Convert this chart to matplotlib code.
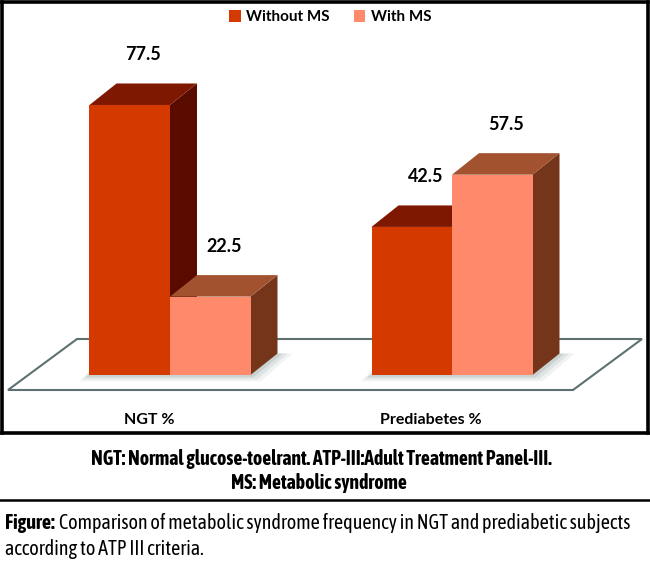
import matplotlib.pyplot as plt
from matplotlib.patches import Polygon, Patch

# data
categories = ["NGT %", "Prediabetes %"]
series = ["Without MS", "With MS"]
without_ms = [77.5, 42.5]
with_ms = [22.5, 57.5]
caption_lines = ["NGT: Normal glucose-toelrant. ATP-III:Adult Treatment Panel-III.",
                 "MS: Metabolic syndrome"]
figure_label = "Figure:"
figure_lines = ["Comparison of metabolic syndrome frequency in NGT and prediabetic subjects",
                "according to ATP III criteria."]

# colours: front, top, side
face_colors = {
    "Without MS": ("#D43A00", "#7F1800", "#5A0B00"),
    "With MS": ("#FF8A6B", "#A3522F", "#74351A"),
}

W, H = 650, 564
fig = plt.figure(figsize=(W / 100, H / 100), dpi=100)

# layout in pixels
box = (2, 2, 648, 433)          # chart border left, top, right, bottom
group_px = 282                  # distance between category centres
x0_px = 170                     # pixel x of first category centre
base_px = 375                   # pixel y of value 0 (front)
unit_px = 3.484                 # pixels per value unit
depth_px = (27, 21.5)           # 3d depth offset of bars

ax = fig.add_axes([box[0] / W, 1 - box[3] / H, (box[2] - box[0]) / W, (box[3] - box[1]) / H])
ax.set_xlim((box[0] - x0_px) / group_px, (box[2] - x0_px) / group_px)
ax.set_ylim((base_px - box[3]) / unit_px, (base_px - box[1]) / unit_px)
ax.set_xticks([])
ax.set_yticks([])
for s in ax.spines.values():
    s.set_linewidth(2.6)
    s.set_color("black")

dx = depth_px[0] / group_px
dy = depth_px[1] / unit_px
bar_w = 80.5 / group_px

# floor
fl_front, fl_back = -15 / unit_px, 36 / unit_px
fl_left, fl_right = (8 - x0_px) / group_px, (573 - x0_px) / group_px
fl_dx = 69 / group_px
ax.add_patch(Polygon([(fl_left, fl_front), (fl_right, fl_front),
                      (fl_right + fl_dx, fl_back), (fl_left + fl_dx, fl_back)],
                     closed=True, facecolor="white", edgecolor="#5E7070", lw=1.5, zorder=1))

chart_font = "Lato"

z = 3
for i, cat in enumerate(categories):
    # soft shadow under the group
    xl, xr = i - bar_w, i + bar_w
    for k, a in [(3, 0.10), (2, 0.15), (1, 0.2)]:
        e = k * 0.012
        ax.add_patch(Polygon([(xl - e, -k * 0.6), (xr + e, -k * 0.6),
                              (xr + dx + e * 1.5, dy), (xl + dx - e, dy)],
                             closed=True, facecolor="#7A8A8A", edgecolor="none",
                             alpha=a, zorder=2))
    for j, (name, vals) in enumerate(zip(series, [without_ms, with_ms])):
        h = vals[i]
        x0 = i - bar_w + j * bar_w
        front, top, side = face_colors[name]
        ax.add_patch(Polygon([(x0, 0), (x0 + bar_w, 0), (x0 + bar_w, h), (x0, h)],
                             closed=True, facecolor=front, edgecolor="none", zorder=z + 1))
        ax.add_patch(Polygon([(x0, h), (x0 + bar_w, h), (x0 + bar_w + dx, h + dy), (x0 + dx, h + dy)],
                             closed=True, facecolor=top, edgecolor="none", zorder=z + 1))
        ax.add_patch(Polygon([(x0 + bar_w, 0), (x0 + bar_w + dx, dy),
                              (x0 + bar_w + dx, h + dy), (x0 + bar_w, h)],
                             closed=True, facecolor=side, edgecolor="none", zorder=z))
        z += 2
        ax.text(x0 + bar_w / 2 + dx / 2, h + 50 / unit_px, f"{h}", ha="center", va="center",
                fontsize=13, fontweight="bold", family=chart_font, zorder=20)
    ax.text(i - 21 / group_px, (base_px - 420) / unit_px, cat, ha="center", va="center",
            fontsize=11.5, fontweight="bold", family=chart_font)

handles = [Patch(facecolor=face_colors[n][0], edgecolor="none") for n in series]
ax.legend(handles, series, loc="upper center", bbox_to_anchor=(0.508, 1.0), ncol=2,
          frameon=False, handlelength=0.75, handleheight=0.75, handletextpad=0.35,
          columnspacing=1.6, borderaxespad=0.15,
          prop={"family": chart_font, "weight": "bold", "size": 11})

# captions below the chart
cap_font = ["Asap Condensed", "DejaVu Sans"]
fig.text(0.494, 1 - 465 / H, caption_lines[0], ha="center", va="baseline",
         fontsize=14.2, fontweight="bold", family=cap_font)
fig.text(0.490, 1 - 489 / H, caption_lines[1], ha="center", va="baseline",
         fontsize=14.2, fontweight="bold", family=cap_font)
fig.add_artist(plt.Line2D([0, 1], [1 - 500 / H, 1 - 500 / H], color="black", lw=1.8))

t1 = fig.text(5 / W, 1 - 529 / H, figure_label, ha="left", va="baseline",
              fontsize=14.5, fontweight="bold", family=cap_font)
fig.canvas.draw()
bb = t1.get_window_extent()
fig.text((bb.x1 + 4) / W, 1 - 529 / H, figure_lines[0], ha="left", va="baseline",
         fontsize=14.5, family=cap_font)
fig.text(5 / W, 1 - 555 / H, figure_lines[1], ha="left", va="baseline",
         fontsize=14.5, family=cap_font)

fig.savefig("out.png", dpi=100)
